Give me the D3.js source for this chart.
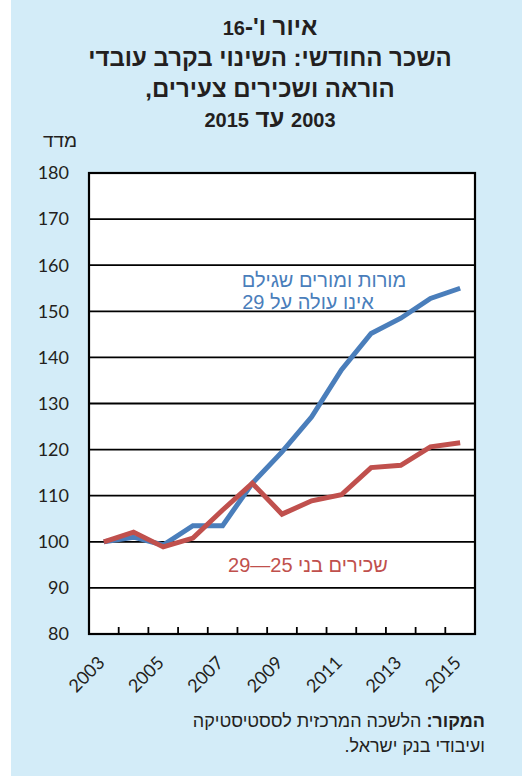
<!DOCTYPE html>
<html lang="he">
<head>
<meta charset="utf-8">
<script src="https://cdn.jsdelivr.net/npm/d3@7"></script>
<style>
  html, body { margin: 0; padding: 0; background: #ffffff; }
  svg { display: block; }
  .heb { font-family: "Liberation Sans", "DejaVu Sans", sans-serif; }
  .num { font-family: Lato, "Open Sans", sans-serif; }
</style>
</head>
<body>
<svg id="chart" width="522" height="776"></svg>
<script>
// Index of monthly wages, 2003 = 100
const years = [2003, 2004, 2005, 2006, 2007, 2008, 2009, 2010, 2011, 2012, 2013, 2014, 2015];
const teachersYoung = [100, 101.0, 99.3, 103.5, 103.5, 112.7, 119.5, 127.1, 137.3, 145.2, 148.5, 152.8, 155.0];
const employeesYoung = [100, 102.1, 98.9, 100.8, 106.9, 112.7, 106.0, 108.9, 110.2, 116.1, 116.6, 120.6, 121.5];
const yTicks = [80, 90, 100, 110, 120, 130, 140, 150, 160, 170, 180];
const xLabelYears = [2003, 2005, 2007, 2009, 2011, 2013, 2015];

const titleLines = ["איור ו'-16", "השכר החודשי: השינוי בקרב עובדי", "הוראה ושכירים צעירים,", "2003 עד 2015"];
const yAxisTitle = "מדד";
const teachersLabel = ["מורות ומורים שגילם", "אינו עולה על 29"];
const employeesLabel = "שכירים בני 25—29";
const sourceBold = "המקור:";
const sourceRest = " הלשכה המרכזית לססטיסטיקה";
const sourceLine2 = "ועיבודי בנק ישראל.";

const blue = "#4a7ebb";
const red = "#c0504d";
const panel = "#d3ecf8";

const svg = d3.select("#chart");

// light blue panel
svg.append("rect").attr("x", 11).attr("y", 0).attr("width", 511).attr("height", 776).attr("fill", panel);

const plot = { left: 89, right: 475, top: 173, bottom: 634 };

const x = d3.scaleBand().domain(years).range([plot.left, plot.right]).padding(0);
const y = d3.scaleLinear().domain([80, 180]).range([plot.bottom, plot.top]);

// title: Hebrew letters set larger than the digits so both read at the same height
const titleY = [35, 66, 97, 127];
titleLines.forEach((t, i) => {
  const line = svg.append("text").attr("class", "heb").attr("direction", "rtl")
    .attr("x", 270).attr("y", titleY[i])
    .attr("text-anchor", "middle").attr("font-weight", "bold").attr("fill", "#231f20");
  t.split(/(\d+)/).filter(s => s.length).forEach(seg => {
    line.append("tspan").attr("font-size", /^\d+$/.test(seg) ? 20 : 24).text(seg);
  });
});

// y axis title
svg.append("text").attr("class", "heb").attr("direction", "rtl")
  .attr("x", 77).attr("y", 147).attr("text-anchor", "start")
  .attr("font-size", 19).attr("fill", "#231f20").text(yAxisTitle);

// plot background
svg.append("rect").attr("x", plot.left).attr("y", plot.top)
  .attr("width", plot.right - plot.left).attr("height", plot.bottom - plot.top).attr("fill", "#ffffff");

// gridlines
svg.append("g").selectAll("line").data(yTicks.slice(1, -1)).join("line")
  .attr("x1", plot.left).attr("x2", plot.right)
  .attr("y1", d => y(d)).attr("y2", d => y(d))
  .attr("stroke", "#000").attr("stroke-width", 1.8);

// y tick labels
svg.append("g").selectAll("text").data(yTicks).join("text")
  .attr("class", "num")
  .attr("x", 69).attr("y", d => y(d)).attr("dy", "0.35em")
  .attr("text-anchor", "end").attr("font-size", 18).attr("fill", "#231f20")
  .text(d => d);

// x tick marks at category boundaries
svg.append("g").selectAll("line").data(years.slice(1)).join("line")
  .attr("x1", d => x(d)).attr("x2", d => x(d))
  .attr("y1", plot.bottom).attr("y2", plot.bottom - 7)
  .attr("stroke", "#000").attr("stroke-width", 1.8);

// x tick labels, rotated
svg.append("g").selectAll("text").data(xLabelYears).join("text")
  .attr("class", "num")
  .attr("text-anchor", "end").attr("dominant-baseline", "central")
  .attr("font-size", 18).attr("fill", "#231f20")
  .attr("transform", d => `translate(${x(d) + x.bandwidth() / 2 - 3},${plot.bottom + 25}) rotate(-45)`)
  .text(d => d);

// series lines
const line = d3.line().x((d, i) => x(years[i]) + x.bandwidth() / 2).y(d => y(d));
svg.append("path").datum(teachersYoung).attr("d", line)
  .attr("fill", "none").attr("stroke", blue).attr("stroke-width", 5).attr("stroke-linejoin", "miter");
svg.append("path").datum(employeesYoung).attr("d", line)
  .attr("fill", "none").attr("stroke", red).attr("stroke-width", 5).attr("stroke-linejoin", "miter");

// frame
svg.append("rect").attr("x", plot.left).attr("y", plot.top)
  .attr("width", plot.right - plot.left).attr("height", plot.bottom - plot.top)
  .attr("fill", "none").attr("stroke", "#000").attr("stroke-width", 2.2);

// series labels
const tl = svg.append("text").attr("class", "heb").attr("direction", "rtl")
  .attr("text-anchor", "middle").attr("font-size", 20).attr("fill", blue);
tl.append("tspan").attr("x", 324).attr("y", 287).text(teachersLabel[0]);
tl.append("tspan").attr("x", 308).attr("y", 309).text(teachersLabel[1]);

svg.append("text").attr("class", "heb").attr("direction", "rtl")
  .attr("x", 308).attr("y", 572).attr("text-anchor", "middle")
  .attr("font-size", 20).attr("fill", red).text(employeesLabel);

// source note
const src = svg.append("text").attr("class", "heb").attr("direction", "rtl")
  .attr("font-size", 18).attr("fill", "#231f20").attr("text-anchor", "start");
const s1 = src.append("tspan").attr("x", 485).attr("y", 727);
s1.append("tspan").attr("font-weight", "bold").text(sourceBold);
s1.append("tspan").text(sourceRest);
src.append("tspan").attr("x", 485).attr("y", 752).text(sourceLine2);
</script>
</body>
</html>
